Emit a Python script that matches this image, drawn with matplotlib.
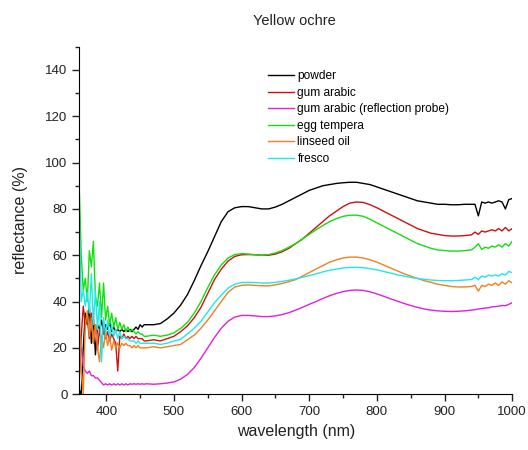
import numpy as np
import matplotlib
matplotlib.use("Agg")
import matplotlib.pyplot as plt
from matplotlib.ticker import MultipleLocator

plt.rcParams["font.family"] = ["Liberation Sans", "DejaVu Sans"]

# wavelength grid: fine steps in the noisy blue end, 10 nm in the middle, 5 nm at the red end
wl_blue = list(range(360, 460, 3))
wl_mid = list(range(470, 941, 10))
wl_red = list(range(945, 1001, 5))
wavelength = np.array(wl_blue + wl_mid + wl_red)

powder = [
    2, 0, 20, 35, 30, 38, 22, 33, 17, 30, 28, 32, 26, 30, 28, 31, 27, 29, 27, 28,
    27, 28, 27, 28, 27, 28, 27, 28, 29, 28, 30, 29, 30, 30,
    30, 30.5, 32.5, 35, 38.5, 43, 49, 55.5, 61.5, 68, 74.5, 78.8, 80.5, 81, 81, 80.5,
    80, 80, 80.8, 82, 83.5, 85, 86.5, 88, 89, 90, 90.5, 91, 91.3, 91.5, 91.5, 91, 90.5,
    89.5, 88.5, 87.5, 86.5, 85.5, 84.5, 83.5, 83, 82.5, 82, 82, 81.8, 81.8, 82, 82,
    82, 77, 83, 82.5, 83, 82.5, 83, 83.5, 83, 80, 84, 84.5,
]
gum_arabic = [
    5, 25, 38, 30, 33, 24, 35, 22, 30, 19, 28, 22, 30, 24, 27, 23, 26, 24, 22, 10,
    25, 24, 26, 24, 25, 24, 25, 24, 25, 24, 24, 24, 23, 23,
    23.5, 23, 24, 25, 27, 29.5, 33, 37.5, 43.5, 49.5, 54, 57.5, 59.5, 60.2, 60.3, 60.2,
    60, 60, 60.5, 61.5, 63, 65, 67, 69.5, 72, 74.5, 77, 79, 81, 82.5, 83, 82.8, 81.8,
    80.5, 79, 77.5, 76, 74.5, 73, 71.5, 70.5, 69.5, 69, 68.5, 68.3, 68.3, 68.5, 68.8,
    70, 69, 70.5, 70, 70.5, 71, 70.5, 71.5, 70.5, 72, 70.5, 71.5,
]
gum_arabic_probe = [
    18, 20, 12, 10, 9, 10, 8, 8, 7, 7, 6, 5, 4, 4.5, 4, 4.5, 4, 4.5, 4, 4.5,
    4, 4.5, 4, 4.5, 4, 4.5, 4.3, 4.5, 4.3, 4.5, 4.3, 4.5, 4.3, 4.5,
    4.3, 4.5, 4.8, 5.3, 6.5, 8.5, 11.5, 15.5, 20, 24.5, 28.5, 31.5, 33.3, 34, 34, 33.8,
    33.5, 33.5, 33.8, 34.4, 35.2, 36.3, 37.5, 38.8, 40, 41.3, 42.5, 43.5, 44.3, 44.8,
    45, 44.8, 44.2, 43.3, 42.3, 41.2, 40.2, 39.2, 38.3, 37.5, 36.8, 36.3, 36, 35.8,
    35.7, 35.8, 36, 36.3,
    36.5, 36.8, 37, 37.2, 37.3, 37.7, 37.8, 38, 38.3, 38.2, 38.8, 39.5,
]
egg_tempera = [
    90, 60, 45, 50, 40, 62, 55, 66, 42, 38, 48, 33, 48, 32, 38, 30, 35, 29, 33, 28,
    31, 28, 30, 27, 29, 27, 28, 27, 26, 27, 26, 26, 25, 25,
    25.5, 25, 25.5, 26.5, 28.4, 31, 35, 40, 46, 51.5, 55.8, 58.8, 60.3, 60.7, 60.5, 60.2,
    60, 60.3, 61, 62, 63.5, 65, 67, 69, 71, 72.8, 74.5, 75.8, 76.8, 77.3, 77.3, 76.8,
    75.5, 74, 72.5, 71, 69.5, 68, 66.5, 65, 64, 63, 62.3, 62, 61.8, 61.8, 62, 62.3,
    63.5, 65, 62.5, 63.5, 63, 64, 63.5, 64.5, 63.5, 65, 64, 66,
]
linseed_oil = [
    38, 10, 0, 30, 36, 25, 33, 22, 30, 20, 14, 25, 20, 27, 21, 25, 19, 23, 20, 22,
    20, 22, 21, 22, 21, 21, 20, 21, 20, 21, 20, 20, 20, 20,
    20.5, 20, 20.5, 21, 21.5, 23.5, 25.5, 28.5, 32, 36, 40, 44, 46.3, 47, 47.2, 47,
    46.8, 46.8, 47.2, 47.8, 48.6, 49.5, 51, 52.5, 54, 55.5, 57, 58, 58.8, 59.2, 59.2,
    58.8, 58, 57, 55.8, 54.5, 53.3, 52, 51, 50, 49, 48.3, 47.5, 47, 46.5, 46.3, 46.3,
    46.5,
    47, 44.5, 47, 46.5, 47.5, 47, 48, 47, 48.5, 47.5, 49, 48,
]
fresco = [
    80, 40, 45, 38, 44, 35, 52, 30, 45, 28, 40, 14, 33, 26, 32, 25, 30, 25, 28, 24,
    27, 24, 25, 24, 24, 23, 23, 23, 22, 23, 22, 22, 22, 22,
    22, 21.5, 22, 23, 23.7, 26, 28.5, 31.5, 35.5, 39.5, 42.8, 45.8, 47.5, 48.2, 48.3, 48.2,
    48, 48, 48.3, 48.7, 49.2, 49.8, 50.5, 51.2, 52, 52.8, 53.5, 54, 54.5, 54.7, 54.8, 54.6,
    54.2, 53.7, 53, 52.3, 51.6, 51, 50.4, 50, 49.6, 49.3, 49.1, 49, 49, 49.1, 49.3,
    49.5,
    50.5, 49.5, 51, 50.5, 51.5, 51, 51.5, 51, 52, 51.5, 53, 52.5,
]

labels = ["powder", "gum arabic", "gum arabic (reflection probe)",
          "egg tempera", "linseed oil", "fresco"]
colors = ["#000000", "#d01010", "#e020e0", "#10e010", "#f08020", "#20e8e8"]
series = [powder, gum_arabic, gum_arabic_probe, egg_tempera, linseed_oil, fresco]

fig = plt.figure(figsize=(5.28, 4.5), dpi=100)
ax = fig.add_axes([0.150, 0.124, 0.820, 0.772])

for vals, lab, col in zip(series, labels, colors):
    ax.plot(wavelength, vals, color=col, lw=1.0, label=lab)

ax.set_xlim(360, 1000)
ax.xaxis.set_major_locator(MultipleLocator(100))
ax.xaxis.set_minor_locator(MultipleLocator(50))
ax.yaxis.set_minor_locator(MultipleLocator(10))
ax.set_yticks(np.arange(0, 141, 20))
ax.set_ylim(0, 150)
ax.spines["top"].set_visible(False)
ax.spines["right"].set_visible(False)
ax.tick_params(which="major", direction="out", length=5, width=1, labelsize=9.5, colors="#222222")
ax.tick_params(which="minor", direction="out", length=3, width=1, colors="#222222")

ax.set_xlabel("wavelength (nm)", fontsize=11.5, color="#222222", labelpad=4)
ax.set_ylabel("reflectance (%)", fontsize=11.5, color="#222222", labelpad=12)
fig.text(0.558, 0.953, "Yellow ochre", ha="center", va="center", fontsize=10.5, color="#222222")

ax.legend(loc="upper left", bbox_to_anchor=(0.424, 0.946), frameon=False,
          fontsize=8.6, handlelength=2.2, handletextpad=0.3, labelspacing=0.38,
          borderaxespad=0)

fig.savefig("out.png", dpi=100, facecolor="white")
